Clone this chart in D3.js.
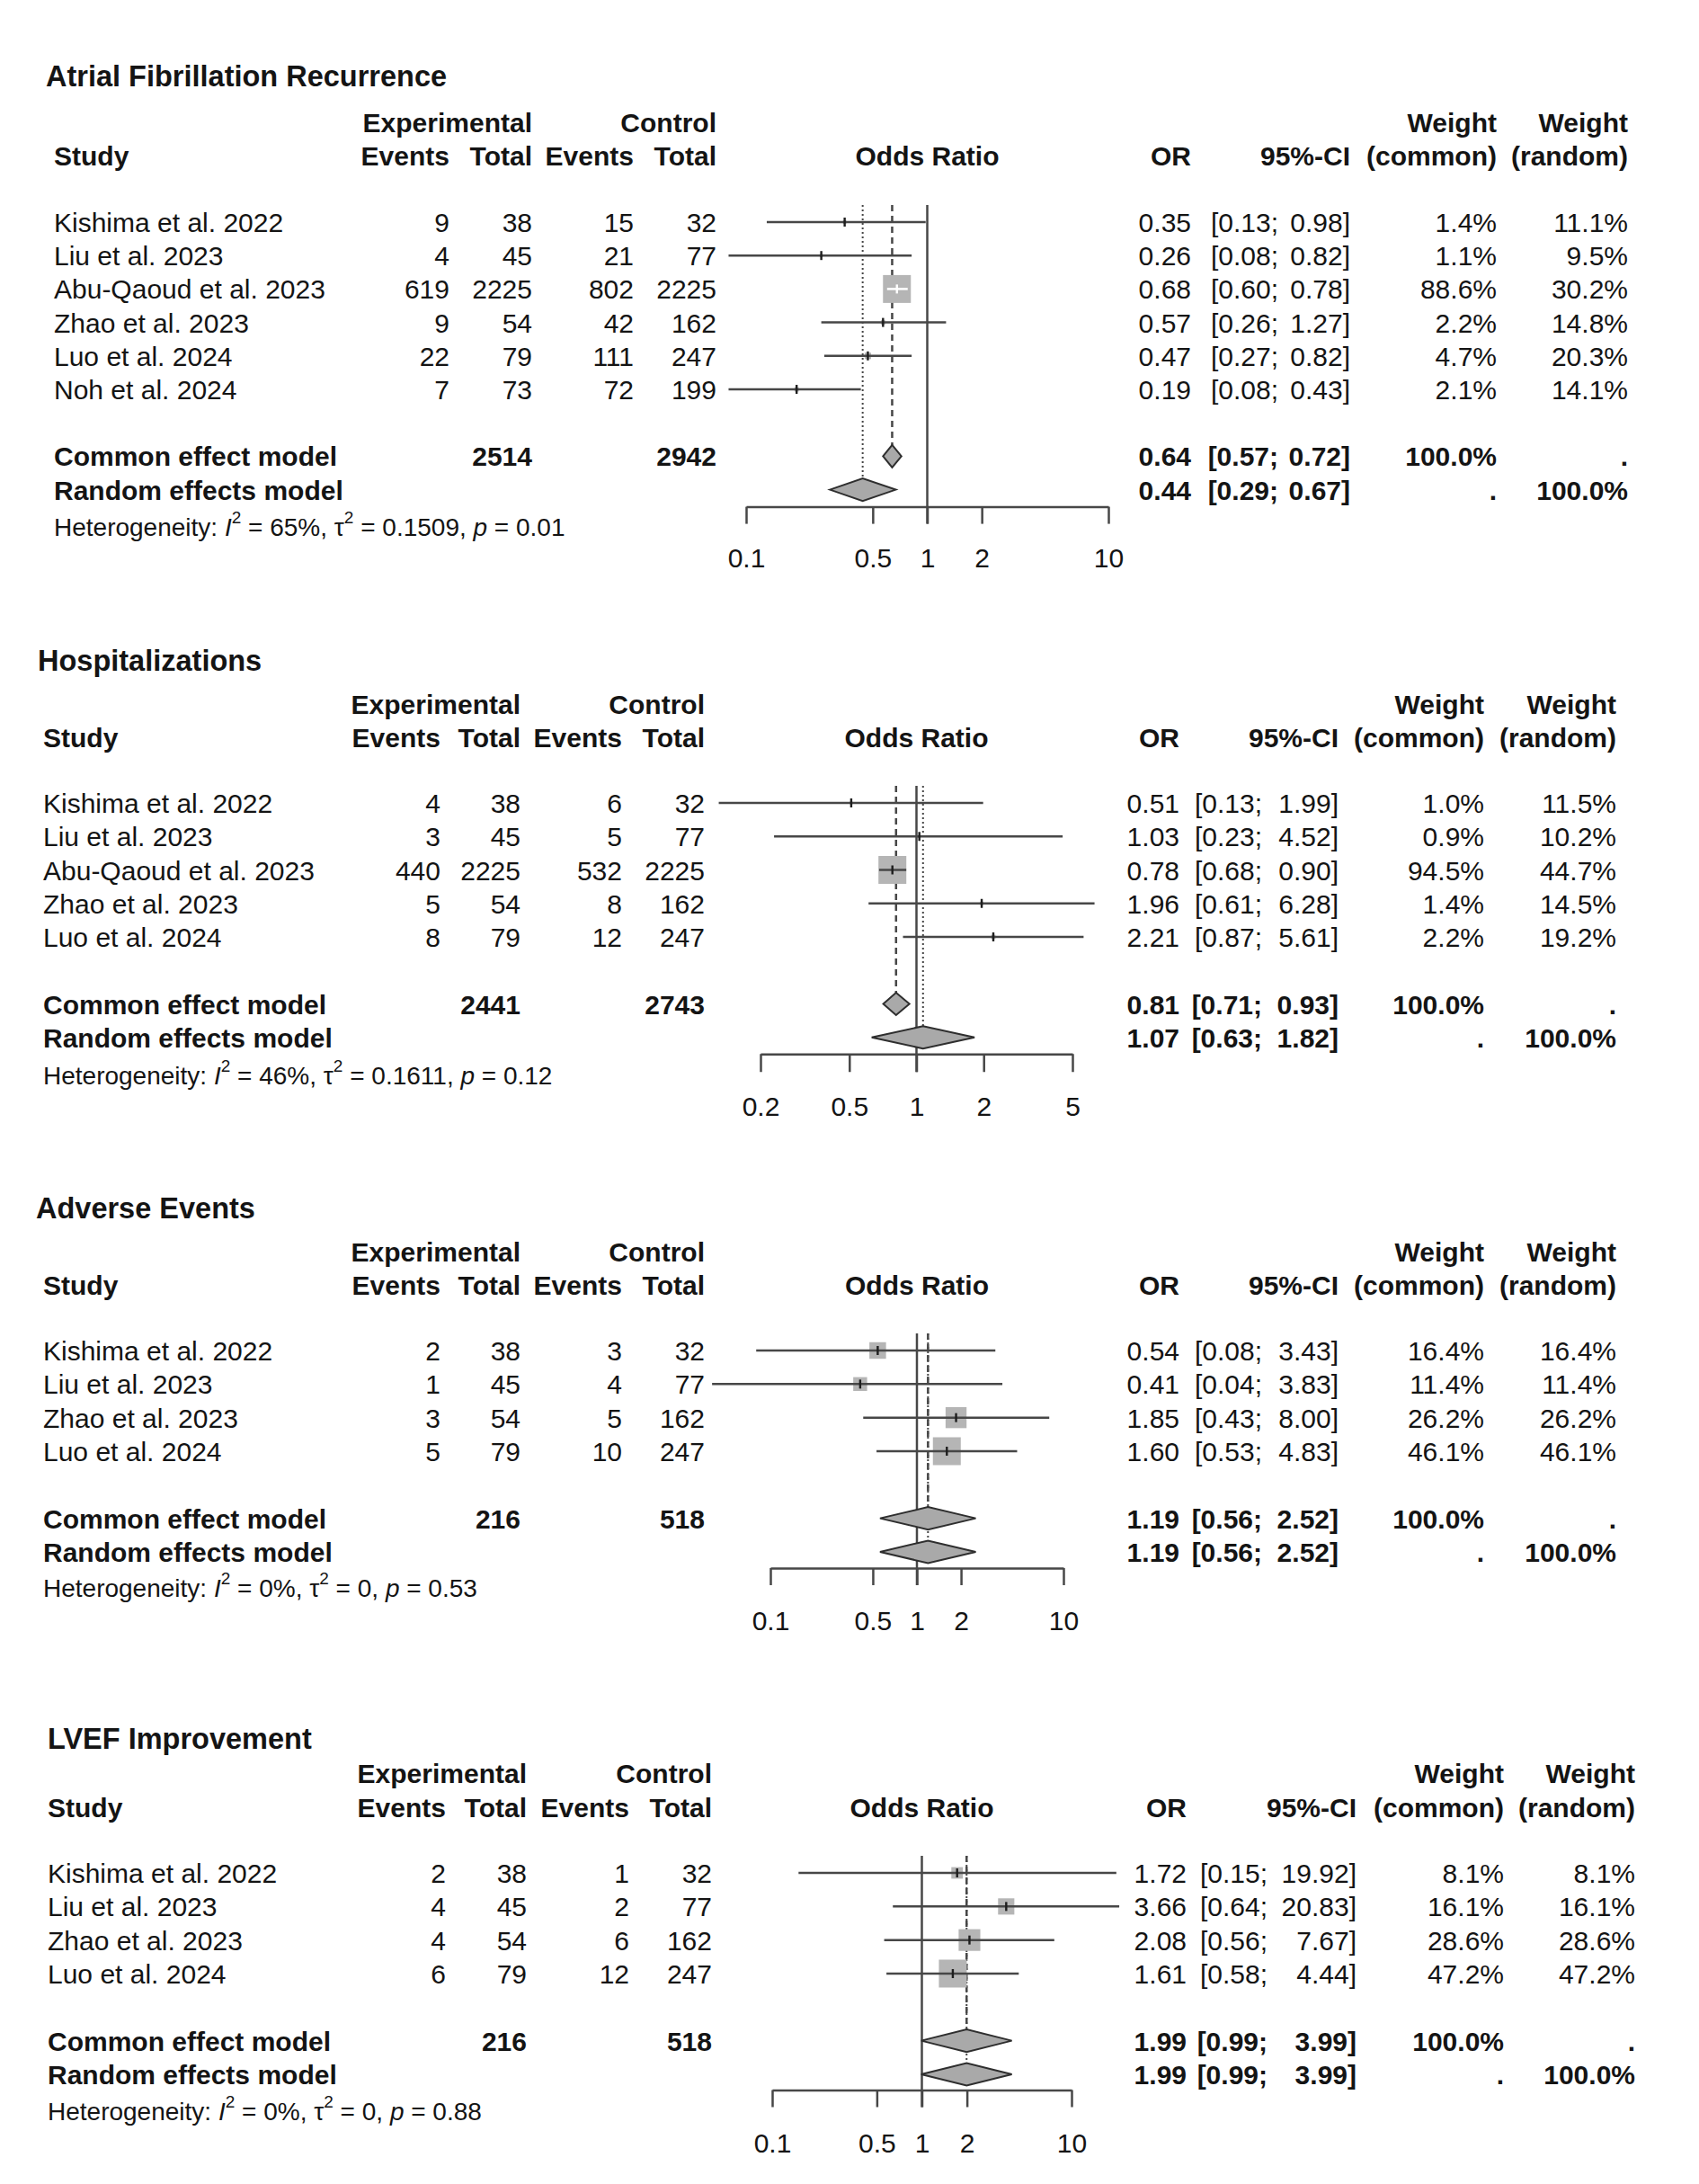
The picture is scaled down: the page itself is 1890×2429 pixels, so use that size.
<!DOCTYPE html>
<html>
<head>
<meta charset="utf-8">
<script src="https://cdn.jsdelivr.net/npm/d3@7"></script>
<style>
  html, body { margin: 0; padding: 0; background: #ffffff; }
  svg { display: block; }
</style>
</head>
<body>
<div id="chart"></div>
<script>
// ---------------- DATA ----------------
// Panel 1: Atrial Fibrillation Recurrence
const AF_title = "Atrial Fibrillation Recurrence";
const AF_study = ["Kishima et al. 2022", "Liu et al. 2023", "Abu-Qaoud et al. 2023", "Zhao et al. 2023", "Luo et al. 2024", "Noh et al. 2024"];
const AF_expEvents = [9, 4, 619, 9, 22, 7];
const AF_expTotal = [38, 45, 2225, 54, 79, 73];
const AF_ctrlEvents = [15, 21, 802, 42, 111, 72];
const AF_ctrlTotal = [32, 77, 2225, 162, 247, 199];
const AF_or = [0.35, 0.26, 0.68, 0.57, 0.47, 0.19];
const AF_lower = [0.13, 0.08, 0.60, 0.26, 0.27, 0.08];
const AF_upper = [0.98, 0.82, 0.78, 1.27, 0.82, 0.43];
const AF_wCommon = [1.4, 1.1, 88.6, 2.2, 4.7, 2.1];
const AF_wRandom = [11.1, 9.5, 30.2, 14.8, 20.3, 14.1];
const AF_common = [0.64, 0.57, 0.72];
const AF_random = [0.44, 0.29, 0.67];
const AF_totals = [2514, 2942];
const AF_het = ["65%", "0.1509", "0.01"];
const AF_ticks = [0.1, 0.5, 1, 2, 10];
const AF_tickLabels = ["0.1", "0.5", "1", "2", "10"];

// Panel 2: Hospitalizations
const HO_title = "Hospitalizations";
const HO_study = ["Kishima et al. 2022", "Liu et al. 2023", "Abu-Qaoud et al. 2023", "Zhao et al. 2023", "Luo et al. 2024"];
const HO_expEvents = [4, 3, 440, 5, 8];
const HO_expTotal = [38, 45, 2225, 54, 79];
const HO_ctrlEvents = [6, 5, 532, 8, 12];
const HO_ctrlTotal = [32, 77, 2225, 162, 247];
const HO_or = [0.51, 1.03, 0.78, 1.96, 2.21];
const HO_lower = [0.13, 0.23, 0.68, 0.61, 0.87];
const HO_upper = [1.99, 4.52, 0.90, 6.28, 5.61];
const HO_wCommon = [1.0, 0.9, 94.5, 1.4, 2.2];
const HO_wRandom = [11.5, 10.2, 44.7, 14.5, 19.2];
const HO_common = [0.81, 0.71, 0.93];
const HO_random = [1.07, 0.63, 1.82];
const HO_totals = [2441, 2743];
const HO_het = ["46%", "0.1611", "0.12"];
const HO_ticks = [0.2, 0.5, 1, 2, 5];
const HO_tickLabels = ["0.2", "0.5", "1", "2", "5"];

// Panel 3: Adverse Events
const AE_title = "Adverse Events";
const AE_study = ["Kishima et al. 2022", "Liu et al. 2023", "Zhao et al. 2023", "Luo et al. 2024"];
const AE_expEvents = [2, 1, 3, 5];
const AE_expTotal = [38, 45, 54, 79];
const AE_ctrlEvents = [3, 4, 5, 10];
const AE_ctrlTotal = [32, 77, 162, 247];
const AE_or = [0.54, 0.41, 1.85, 1.60];
const AE_lower = [0.08, 0.04, 0.43, 0.53];
const AE_upper = [3.43, 3.83, 8.00, 4.83];
const AE_wCommon = [16.4, 11.4, 26.2, 46.1];
const AE_wRandom = [16.4, 11.4, 26.2, 46.1];
const AE_common = [1.19, 0.56, 2.52];
const AE_random = [1.19, 0.56, 2.52];
const AE_totals = [216, 518];
const AE_het = ["0%", "0", "0.53"];
const AE_ticks = [0.1, 0.5, 1, 2, 10];
const AE_tickLabels = ["0.1", "0.5", "1", "2", "10"];

// Panel 4: LVEF Improvement
const LV_title = "LVEF Improvement";
const LV_study = ["Kishima et al. 2022", "Liu et al. 2023", "Zhao et al. 2023", "Luo et al. 2024"];
const LV_expEvents = [2, 4, 4, 6];
const LV_expTotal = [38, 45, 54, 79];
const LV_ctrlEvents = [1, 2, 6, 12];
const LV_ctrlTotal = [32, 77, 162, 247];
const LV_or = [1.72, 3.66, 2.08, 1.61];
const LV_lower = [0.15, 0.64, 0.56, 0.58];
const LV_upper = [19.92, 20.83, 7.67, 4.44];
const LV_wCommon = [8.1, 16.1, 28.6, 47.2];
const LV_wRandom = [8.1, 16.1, 28.6, 47.2];
const LV_common = [1.99, 0.99, 3.99];
const LV_random = [1.99, 0.99, 3.99];
const LV_totals = [216, 518];
const LV_het = ["0%", "0", "0.88"];
const LV_ticks = [0.1, 0.5, 1, 2, 10];
const LV_tickLabels = ["0.1", "0.5", "1", "2", "10"];

// ---------------- LAYOUT (positions only) ----------------
const layouts = [
  { titleX: 51, titleY: 95.5, h1Y: 147, h2Y: 184, studyX: 60,
    cE1: 500, cT1: 592, cE2: 705, cT2: 797,
    x0: 830, x1: 1233, rowY0: 247, step: 37.2, axisGap: 19, tickLen: 19, labelC: 56.5,
    orX: 1325, ciSemi: 1422, ciRight: 1502, wcX: 1665, wrX: 1811, hetY: 595.5 },
  { titleX: 42, titleY: 745.5, h1Y: 794, h2Y: 831, studyX: 48,
    cE1: 490, cT1: 579, cE2: 692, cT2: 784,
    x0: 846, x1: 1193, rowY0: 893, step: 37.25, axisGap: 18.5, tickLen: 20, labelC: 58,
    orX: 1312, ciSemi: 1404, ciRight: 1489, wcX: 1651, wrX: 1798, hetY: 1205.5 },
  { titleX: 40, titleY: 1354.5, h1Y: 1403, h2Y: 1440, studyX: 48,
    cE1: 490, cT1: 579, cE2: 692, cT2: 784,
    x0: 857, x1: 1183, rowY0: 1502, step: 37.33, axisGap: 18, tickLen: 19, labelC: 58,
    orX: 1312, ciSemi: 1404, ciRight: 1489, wcX: 1651, wrX: 1798, hetY: 1775.5 },
  { titleX: 53, titleY: 1944.5, h1Y: 1983, h2Y: 2021, studyX: 53,
    cE1: 496, cT1: 586, cE2: 700, cT2: 792,
    x0: 859, x1: 1192, rowY0: 2083, step: 37.33, axisGap: 17.5, tickLen: 19, labelC: 59,
    orX: 1320, ciSemi: 1410, ciRight: 1509, wcX: 1673, wrX: 1819, hetY: 2357.5 }
];

const panels = [
  { title: AF_title, study: AF_study, eE: AF_expEvents, eT: AF_expTotal, cE: AF_ctrlEvents, cT: AF_ctrlTotal,
    or: AF_or, lo: AF_lower, hi: AF_upper, wc: AF_wCommon, wr: AF_wRandom, common: AF_common, random: AF_random,
    totals: AF_totals, het: AF_het, ticks: AF_ticks, tickLabels: AF_tickLabels },
  { title: HO_title, study: HO_study, eE: HO_expEvents, eT: HO_expTotal, cE: HO_ctrlEvents, cT: HO_ctrlTotal,
    or: HO_or, lo: HO_lower, hi: HO_upper, wc: HO_wCommon, wr: HO_wRandom, common: HO_common, random: HO_random,
    totals: HO_totals, het: HO_het, ticks: HO_ticks, tickLabels: HO_tickLabels },
  { title: AE_title, study: AE_study, eE: AE_expEvents, eT: AE_expTotal, cE: AE_ctrlEvents, cT: AE_ctrlTotal,
    or: AE_or, lo: AE_lower, hi: AE_upper, wc: AE_wCommon, wr: AE_wRandom, common: AE_common, random: AE_random,
    totals: AE_totals, het: AE_het, ticks: AE_ticks, tickLabels: AE_tickLabels },
  { title: LV_title, study: LV_study, eE: LV_expEvents, eT: LV_expTotal, cE: LV_ctrlEvents, cT: LV_ctrlTotal,
    or: LV_or, lo: LV_lower, hi: LV_upper, wc: LV_wCommon, wr: LV_wRandom, common: LV_common, random: LV_random,
    totals: LV_totals, het: LV_het, ticks: LV_ticks, tickLabels: LV_tickLabels }
];

// ---------------- STYLE ----------------
const FONT = "'Liberation Sans', Arial, Helvetica, sans-serif";
const TXT = "#141414";
const LINE = "#474747";
const SQUARE = "#b5b5b5";
const DIAMOND = "#a9a9a9";
const FS = 30;
const MAXSQ = 31;
const DH = 12.5;

const W = 1890, H = 2429;
const svg = d3.select("#chart").append("svg")
  .attr("width", W).attr("height", H).attr("viewBox", `0 0 ${W} ${H}`);
svg.append("rect").attr("width", W).attr("height", H).attr("fill", "#ffffff");

const f2 = d3.format(".2f");
const f1 = d3.format(".1f");

function txt(g, x, y, s, opt = {}) {
  return g.append("text")
    .attr("x", x).attr("y", y)
    .attr("text-anchor", opt.anchor || "start")
    .attr("font-family", FONT)
    .attr("font-size", opt.size || FS)
    .attr("font-weight", opt.bold ? "bold" : "normal")
    .attr("fill", TXT)
    .text(s);
}

panels.forEach((p, pi) => {
  const L = layouts[pi];
  const g = svg.append("g").attr("class", "panel");
  const n = p.study.length;
  const x = d3.scaleLog().domain([p.ticks[0], p.ticks[p.ticks.length - 1]]).range([L.x0, L.x1]);
  const rowY = i => L.rowY0 + i * L.step;
  const commonY = L.rowY0 + (n + 1) * L.step;
  const randomY = commonY + L.step;
  const axisY = randomY + L.axisGap;
  const vTop = L.rowY0 - 19;
  const BO = 11; // baseline offset from row centre

  // Title
  txt(g, L.titleX, L.titleY, p.title, { bold: true, size: 32.5 });

  // Header rows
  txt(g, L.cT1, L.h1Y, "Experimental", { bold: true, anchor: "end" });
  txt(g, L.cT2, L.h1Y, "Control", { bold: true, anchor: "end" });
  txt(g, L.wcX, L.h1Y, "Weight", { bold: true, anchor: "end" });
  txt(g, L.wrX, L.h1Y, "Weight", { bold: true, anchor: "end" });

  txt(g, L.studyX, L.h2Y, "Study", { bold: true });
  txt(g, L.cE1, L.h2Y, "Events", { bold: true, anchor: "end" });
  txt(g, L.cT1, L.h2Y, "Total", { bold: true, anchor: "end" });
  txt(g, L.cE2, L.h2Y, "Events", { bold: true, anchor: "end" });
  txt(g, L.cT2, L.h2Y, "Total", { bold: true, anchor: "end" });
  txt(g, (L.x0 + L.x1) / 2, L.h2Y, "Odds Ratio", { bold: true, anchor: "middle" });
  txt(g, L.orX, L.h2Y, "OR", { bold: true, anchor: "end" });
  txt(g, L.ciRight, L.h2Y, "95%-CI", { bold: true, anchor: "end" });
  txt(g, L.wcX, L.h2Y, "(common)", { bold: true, anchor: "end" });
  txt(g, L.wrX, L.h2Y, "(random)", { bold: true, anchor: "end" });

  // Study rows text
  p.study.forEach((s, i) => {
    const y = rowY(i) + BO;
    txt(g, L.studyX, y, s);
    txt(g, L.cE1, y, p.eE[i], { anchor: "end" });
    txt(g, L.cT1, y, p.eT[i], { anchor: "end" });
    txt(g, L.cE2, y, p.cE[i], { anchor: "end" });
    txt(g, L.cT2, y, p.cT[i], { anchor: "end" });
    txt(g, L.orX, y, f2(p.or[i]), { anchor: "end" });
    txt(g, L.ciSemi, y, "[" + f2(p.lo[i]) + ";", { anchor: "end" });
    txt(g, L.ciRight, y, f2(p.hi[i]) + "]", { anchor: "end" });
    txt(g, L.wcX, y, f1(p.wc[i]) + "%", { anchor: "end" });
    txt(g, L.wrX, y, f1(p.wr[i]) + "%", { anchor: "end" });
  });

  // Summary rows text
  const cy = commonY + BO, ry = randomY + BO;
  txt(g, L.studyX, cy, "Common effect model", { bold: true });
  txt(g, L.cT1, cy, p.totals[0], { bold: true, anchor: "end" });
  txt(g, L.cT2, cy, p.totals[1], { bold: true, anchor: "end" });
  txt(g, L.orX, cy, f2(p.common[0]), { bold: true, anchor: "end" });
  txt(g, L.ciSemi, cy, "[" + f2(p.common[1]) + ";", { bold: true, anchor: "end" });
  txt(g, L.ciRight, cy, f2(p.common[2]) + "]", { bold: true, anchor: "end" });
  txt(g, L.wcX, cy, "100.0%", { bold: true, anchor: "end" });
  txt(g, L.wrX, cy, ".", { bold: true, anchor: "end" });

  txt(g, L.studyX, ry, "Random effects model", { bold: true });
  txt(g, L.orX, ry, f2(p.random[0]), { bold: true, anchor: "end" });
  txt(g, L.ciSemi, ry, "[" + f2(p.random[1]) + ";", { bold: true, anchor: "end" });
  txt(g, L.ciRight, ry, f2(p.random[2]) + "]", { bold: true, anchor: "end" });
  txt(g, L.wcX, ry, ".", { bold: true, anchor: "end" });
  txt(g, L.wrX, ry, "100.0%", { bold: true, anchor: "end" });

  // Heterogeneity
  const HS = 28;
  const ht = g.append("text").attr("x", L.studyX).attr("y", L.hetY)
    .attr("font-family", FONT).attr("font-size", HS).attr("fill", TXT);
  ht.append("tspan").text("Heterogeneity: ");
  ht.append("tspan").attr("font-style", "italic").text("I");
  ht.append("tspan").attr("font-size", 19).attr("dy", -14).text("2");
  ht.append("tspan").attr("dy", 14).text(" = " + p.het[0] + ", ");
  ht.append("tspan").text("\u03C4");
  ht.append("tspan").attr("font-size", 19).attr("dy", -14).text("2");
  ht.append("tspan").attr("dy", 14).text(" = " + p.het[1] + ", ");
  ht.append("tspan").attr("font-style", "italic").text("p");
  ht.append("tspan").text(" = " + p.het[2]);

  // Reference line at 1
  g.append("line").attr("x1", x(1)).attr("x2", x(1))
    .attr("y1", vTop).attr("y2", axisY + L.tickLen)
    .attr("stroke", LINE).attr("stroke-width", 2.5);

  // Common (dashed) and random (dotted) lines
  g.append("line").attr("x1", x(p.random[0])).attr("x2", x(p.random[0]))
    .attr("y1", vTop).attr("y2", randomY - DH)
    .attr("stroke", LINE).attr("stroke-width", 2).attr("stroke-dasharray", "2,3");
  g.append("line").attr("x1", x(p.common[0])).attr("x2", x(p.common[0]))
    .attr("y1", vTop).attr("y2", commonY - DH)
    .attr("stroke", LINE).attr("stroke-width", 2.5).attr("stroke-dasharray", "7,5");

  // Squares, CI lines, point ticks
  const wmax = d3.max(p.wc);
  p.study.forEach((s, i) => {
    const y = rowY(i);
    const cx = x(p.or[i]);
    const side = MAXSQ * Math.sqrt(p.wc[i] / wmax);
    g.append("rect").attr("x", cx - side / 2).attr("y", y - side / 2)
      .attr("width", side).attr("height", side).attr("fill", SQUARE);
    const xl = x(p.lo[i]), xh = x(p.hi[i]);
    const inside = xl >= cx - side / 2 + 2 && xh <= cx + side / 2 - 2;
    const col = inside ? "#ffffff" : LINE;
    g.append("line").attr("x1", xl).attr("x2", xh).attr("y1", y).attr("y2", y)
      .attr("stroke", col).attr("stroke-width", 2.5);
    g.append("rect").attr("x", cx - 1.2).attr("y", y - 5).attr("width", 2.4).attr("height", 10)
      .attr("fill", inside ? "#ffffff" : "#1e1e1e");
  });

  // Diamonds
  const diamond = (est, lo, hi, y) =>
    `M${x(lo)},${y} L${x(est)},${y - DH} L${x(hi)},${y} L${x(est)},${y + DH} Z`;
  g.append("path").attr("d", diamond(p.common[0], p.common[1], p.common[2], commonY))
    .attr("fill", DIAMOND).attr("stroke", "#2e2e2e").attr("stroke-width", 2);
  g.append("path").attr("d", diamond(p.random[0], p.random[1], p.random[2], randomY))
    .attr("fill", DIAMOND).attr("stroke", "#2e2e2e").attr("stroke-width", 2);

  // Axis
  const pad = L.labelC - 10.6 - L.tickLen;
  const axis = d3.axisBottom(x)
    .tickValues(p.ticks)
    .tickFormat((d, i) => p.tickLabels[i])
    .tickSize(L.tickLen).tickSizeOuter(0).tickPadding(pad);
  const ag = g.append("g").attr("transform", `translate(0,${axisY})`).call(axis);
  ag.attr("font-family", FONT).attr("font-size", FS);
  ag.select(".domain").attr("stroke", LINE).attr("stroke-width", 2.5);
  ag.selectAll(".tick line").attr("stroke", LINE).attr("stroke-width", 2.5);
  ag.selectAll(".tick text").attr("fill", TXT).attr("font-size", FS).attr("font-family", FONT);
});
</script>
</body>
</html>
